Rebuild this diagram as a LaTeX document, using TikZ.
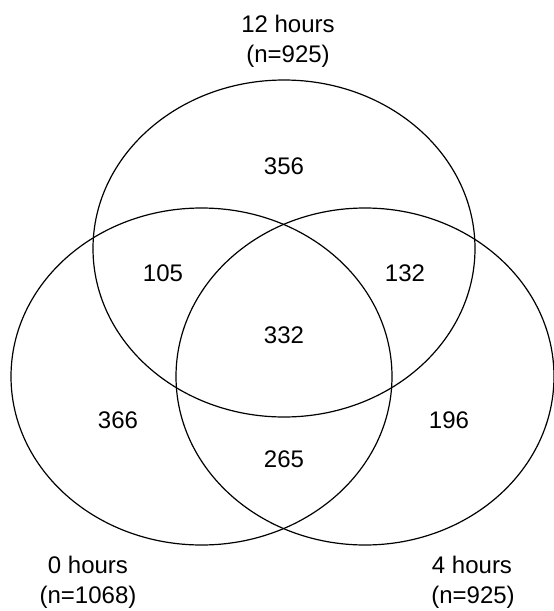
\documentclass[tikz,border=0pt]{standalone}
\usepackage{fontspec}
\setmainfont{Liberation Sans}
\begin{document}
\begin{tikzpicture}[x=1pt,y=-1pt,
  setline/.style={line width=1.2pt, draw=black},
  lbl/.style={anchor=base, inner sep=0pt, font=\fontsize{24}{30}\selectfont}]
\useasboundingbox (0,0) rectangle (554,611);
% sets
\draw[setline] (284,248.5) ellipse [x radius=191, y radius=168.5];
\draw[setline] (201.5,376.5) ellipse [x radius=190.5, y radius=168.5];
\draw[setline] (365,376.5) ellipse [x radius=189, y radius=168.5];
% set labels
\node[lbl] (t12) at (288,32) {12 hours};
\node[lbl] (t12n) at (288,62) {(n=925)};
\node[lbl] (t0) at (88,573) {0 hours};
\node[lbl] (t0n) at (88,603) {(n=1068)};
\node[lbl] (t4) at (472,573) {4 hours};
\node[lbl] (t4n) at (473,603) {(n=925)};
% region counts
\node[lbl] (r356) at (284,174) {356};
\node[lbl] (r105) at (163,281) {105};
\node[lbl] (r132) at (405,281) {132};
\node[lbl] (r332) at (284,343) {332};
\node[lbl] (r366) at (118,428) {366};
\node[lbl] (r196) at (449,428) {196};
\node[lbl] (r265) at (284,467) {265};
\end{tikzpicture}
\end{document}
